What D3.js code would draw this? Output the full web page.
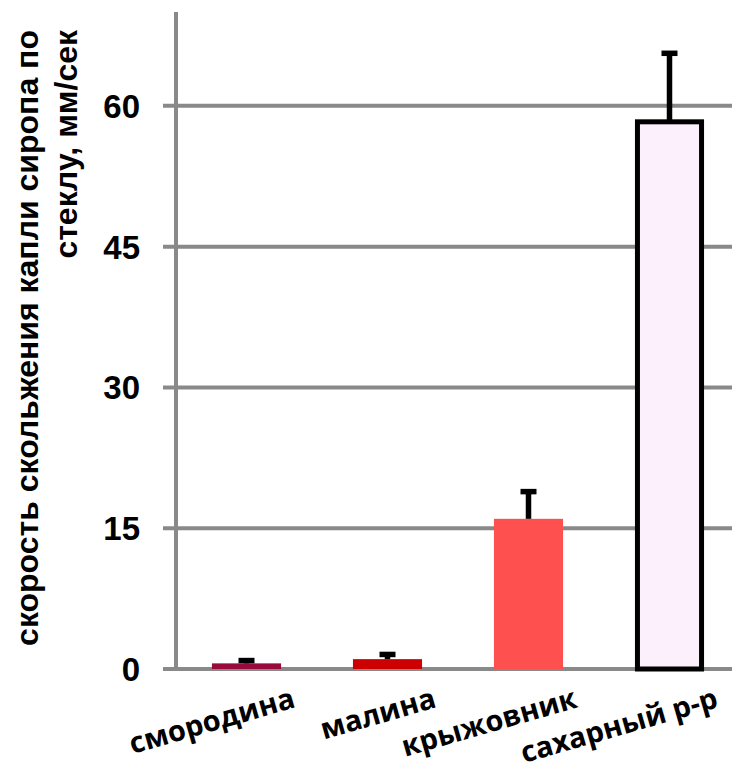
<!DOCTYPE html>
<html><head><meta charset="utf-8">
<script src="https://cdn.jsdelivr.net/npm/d3@7"></script>
<style>body{margin:0;background:#fff}svg{display:block}</style>
</head><body>
<svg id="c" width="732" height="774"></svg>
<script>
const categories = ["смородина", "малина", "крыжовник", "сахарный р-р"];
const values = [0.6, 1.05, 16.0, 58.3];
const errors = [0.3, 0.5, 2.9, 7.3];
const colors = ["#990a3c", "#cc0000", "#ff5050", "#fdf0fd"];
const yTicks = [0, 15, 30, 45, 60];
const titleLines = ["скорость скольжения капли сиропа по", "стеклу, мм/сек"];

const svg = d3.select("#c");
const x0 = 176, x1 = 740, yTop = 12, yBase = 669;
const y = d3.scaleLinear().domain([0, 70]).range([yBase, yTop]);
const x = d3.scaleBand().domain(categories).range([x0, x1]).paddingInner(0.51).paddingOuter(0.255);

// gridlines
svg.append("g").selectAll("line").data(yTicks).join("line")
  .attr("x1", x0 - 13).attr("x2", 732)
  .attr("y1", d => y(d)).attr("y2", d => y(d))
  .attr("stroke", "#898989").attr("stroke-width", 4);
// axis line
svg.append("line").attr("x1", x0).attr("x2", x0).attr("y1", yTop).attr("y2", yBase + 2)
  .attr("stroke", "#898989").attr("stroke-width", 4);

// tick labels
svg.append("g").selectAll("text").data(yTicks).join("text")
  .attr("x", 140).attr("y", d => y(d)).attr("dy", "0.36em")
  .attr("text-anchor", "end")
  .style("font-family", "Liberation Sans, Arial, sans-serif")
  .style("font-weight", "bold").style("font-size", "33px")
  .text(d => d);

// bars
const data = categories.map((c, i) => ({c, v: values[i], e: errors[i], col: colors[i], i}));
svg.append("g").selectAll("rect").data(data).join("rect")
  .attr("x", d => x(d.c) + (d.i === 3 ? 2.5 : 0))
  .attr("width", d => x.bandwidth() - (d.i === 3 ? 5 : 0))
  .attr("y", d => y(d.v))
  .attr("height", d => y(0) - y(d.v))
  .attr("fill", d => d.col)
  .attr("stroke", d => d.i === 3 ? "#000" : "none")
  .attr("stroke-width", 5);

// error bars
const eb = svg.append("g");
eb.selectAll("line.stem").data(data).join("line").attr("class", "stem")
  .attr("x1", d => x(d.c) + x.bandwidth() / 2).attr("x2", d => x(d.c) + x.bandwidth() / 2)
  .attr("y1", d => y(d.v)).attr("y2", d => y(d.v + d.e))
  .attr("stroke", "#000").attr("stroke-width", 5.5);
eb.selectAll("line.cap").data(data).join("line").attr("class", "cap")
  .attr("x1", d => x(d.c) + x.bandwidth() / 2 - 8).attr("x2", d => x(d.c) + x.bandwidth() / 2 + 8)
  .attr("y1", d => y(d.v + d.e)).attr("y2", d => y(d.v + d.e))
  .attr("stroke", "#000").attr("stroke-width", 5.5);

// x labels
svg.append("g").selectAll("text").data(data).join("text")
  .attr("transform", d => `translate(${x(d.c) + x.bandwidth() / 2 + 50},707) rotate(-16)`)
  .attr("text-anchor", "end")
  .style("font-family", "Open Sans, sans-serif")
  .style("font-weight", "bold").style("font-size", "29px")
  .text(d => d.c);

// y title
const tl = [38, 77];
svg.append("g").selectAll("text").data(titleLines).join("text")
  .attr("transform", (d, i) => `translate(${tl[i]},30) rotate(-90)`)
  .attr("text-anchor", "end")
  .style("font-family", "Liberation Sans, Arial, sans-serif")
  .style("font-weight", "bold").style("font-size", "32px")
  .text(d => d);
</script>
</body></html>
